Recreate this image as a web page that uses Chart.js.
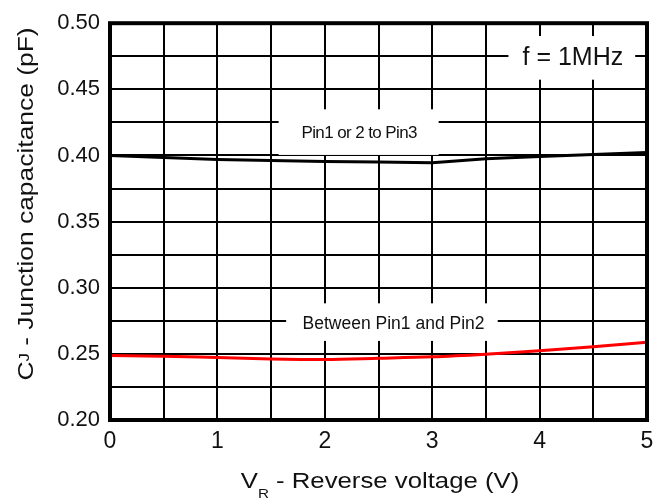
<!DOCTYPE html>
<html>
<head>
<meta charset="utf-8">
<script src="https://cdn.jsdelivr.net/npm/chart.js@4.4.1/dist/chart.umd.min.js"></script>
<style>
  html, body { margin: 0; padding: 0; background: #fff; }
  #wrap { width: 669px; height: 501px; }
</style>
</head>
<body>
<div id="wrap"><canvas id="capChart" width="669" height="501"></canvas></div>
<script>
  // Reverse voltage (V)
  const voltage = [0, 0.5, 1, 1.5, 2, 2.5, 3, 3.5, 4, 4.5, 5];
  // Pin1 or 2 to Pin3 (pF)
  const capPin3 = [0.400, 0.3985, 0.397, 0.3962, 0.3955, 0.395, 0.3945, 0.3975, 0.3993, 0.4008, 0.4022];
  // Between Pin1 and Pin2 (pF)
  const capPin12 = [0.2488, 0.2482, 0.2472, 0.2462, 0.2458, 0.2467, 0.2478, 0.2498, 0.2523, 0.2553, 0.2588];

  const xTickLabels = ['0', '1', '2', '3', '4', '5'];
  const yTickLabels = ['0.20', '0.25', '0.30', '0.35', '0.40', '0.45', '0.50'];

  const FONT = '"Liberation Sans", Arial, sans-serif';

  // white label boxes drawn over the grid
  const notes = [
    { text: 'f = 1MHz', size: 25, spacing: '0px', x0: 3.71, x1: 4.89, y0: 0.4573, y1: 0.4903, cx: 4.31, cy: 0.4738 },
    { text: 'Pin1 or 2 to Pin3', size: 17, spacing: '-0.6px', x0: 1.57, x1: 3.06, y0: 0.4004, y1: 0.4349, cx: 2.32, cy: 0.4165 },
    { text: 'Between Pin1 and Pin2', size: 17.5, spacing: '0px', x0: 1.64, x1: 3.61, y0: 0.2598, y1: 0.2882, cx: 2.64, cy: 0.2725 }
  ];

  const decor = {
    id: 'decor',
    beforeDatasetsDraw(chart) {
      const { ctx, scales: { x, y } } = chart;
      ctx.save();
      notes.forEach(n => {
        const l = x.getPixelForValue(n.x0), r = x.getPixelForValue(n.x1);
        const t = y.getPixelForValue(n.y1), b = y.getPixelForValue(n.y0);
        ctx.fillStyle = '#fff';
        ctx.fillRect(l, t, r - l, b - t);
        ctx.fillStyle = '#111';
        ctx.font = n.size + 'px ' + FONT;
        ctx.letterSpacing = n.spacing;
        ctx.textAlign = 'center';
        ctx.textBaseline = 'middle';
        ctx.fillText(n.text, x.getPixelForValue(n.cx), y.getPixelForValue(n.cy));
      });
      ctx.letterSpacing = '0px';
      ctx.restore();
    },
    afterDatasetsDraw(chart) {
      const { ctx, chartArea: a } = chart;
      ctx.save();
      ctx.strokeStyle = '#000';
      ctx.lineWidth = 4;
      ctx.strokeRect(a.left, a.top, a.right - a.left, a.bottom - a.top);
      ctx.restore();
    },
    afterDraw(chart) {
      const { ctx } = chart;
      const big = '22px ' + FONT, small = '13px ' + FONT;
      ctx.save();
      ctx.fillStyle = '#111';
      ctx.textBaseline = 'alphabetic';
      ctx.textAlign = 'left';
      ctx.wordSpacing = '-2.5px';

      // x title: V_R - Reverse voltage (V), slightly wide lettering
      const rest = ' - Reverse voltage (V)';
      ctx.font = big;
      const wV = ctx.measureText('V').width, wRest = ctx.measureText(rest).width;
      ctx.font = small;
      const wR = ctx.measureText('R').width;
      ctx.save();
      ctx.translate(380, 488);
      ctx.scale(1.17, 1);
      let sx = -(wV + wR + wRest) / 2;
      ctx.font = big; ctx.fillText('V', sx, 0); sx += wV;
      ctx.font = small; ctx.fillText('R', sx, 10); sx += wR;
      ctx.font = big; ctx.fillText(rest, sx, 0);
      ctx.restore();

      // y title: CJ - Junction capacitance (pF)
      ctx.translate(33, 204);
      ctx.rotate(-Math.PI / 2);
      ctx.scale(1.2, 1);
      const yRest = ' - Junction capacitance (pF)';
      const jFont = '14px ' + FONT;
      ctx.font = big;
      const wC = ctx.measureText('C').width, wYR = ctx.measureText(yRest).width;
      ctx.font = jFont;
      const wJ = ctx.measureText('J').width;
      let tx = -(wC + wJ + wYR) / 2;
      ctx.font = big; ctx.fillText('C', tx, 0); tx += wC;
      ctx.font = jFont; ctx.fillText('J', tx, -4); tx += wJ;
      ctx.font = big; ctx.fillText(yRest, tx, 0);
      ctx.restore();
    }
  };

  const ctx = document.getElementById('capChart').getContext('2d');
  new Chart(ctx, {
    type: 'line',
    data: {
      datasets: [{
        label: 'Pin1 or 2 to Pin3',
        data: voltage.map((v, i) => ({ x: v, y: capPin3[i] })),
        borderColor: '#000',
        borderWidth: 3,
        pointRadius: 0,
        tension: 0
      }, {
        label: 'Between Pin1 and Pin2',
        data: voltage.map((v, i) => ({ x: v, y: capPin12[i] })),
        borderColor: '#ff0000',
        borderWidth: 3,
        pointRadius: 0,
        cubicInterpolationMode: 'monotone'
      }]
    },
    options: {
      responsive: false,
      animation: false,
      devicePixelRatio: 1,
      layout: { padding: { top: 19, right: 22, left: 0, bottom: 0 } },
      plugins: { legend: { display: false }, tooltip: { enabled: false }, title: { display: false } },
      scales: {
        x: {
          type: 'linear',
          min: 0, max: 5,
          grid: { color: '#000', lineWidth: 2, drawTicks: false },
          border: { display: false },
          ticks: {
            stepSize: 0.5,
            autoSkip: false,
            maxRotation: 0,
            padding: 8,
            color: '#111',
            font: { family: FONT, size: 23 },
            callback: v => Number.isInteger(v) ? xTickLabels[v] : ''
          },
          afterFit: s => { s.height = 81; }
        },
        y: {
          type: 'linear',
          min: 0.2, max: 0.5,
          grid: { color: '#000', lineWidth: 2, drawTicks: false },
          border: { display: false },
          ticks: {
            stepSize: 0.025,
            autoSkip: false,
            padding: 10,
            color: '#111',
            font: { family: FONT, size: 22 },
            callback: v => {
              const k = Math.round(v * 1000);
              return k % 50 === 0 ? yTickLabels[(k - 200) / 50] : '';
            }
          },
          afterFit: s => { s.width = 110; }
        }
      }
    },
    plugins: [decor]
  });
</script>
</body>
</html>
